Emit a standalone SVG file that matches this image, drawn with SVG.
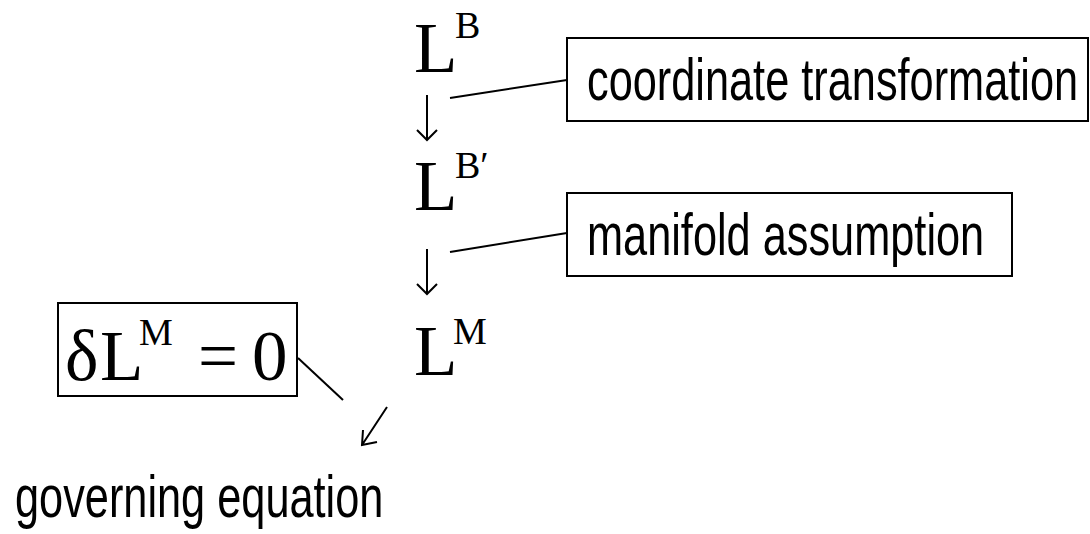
<svg xmlns="http://www.w3.org/2000/svg" width="1090" height="534" viewBox="0 0 1090 534">
  <style>
    .math { font-family: "Liberation Serif", "Times New Roman", serif; fill: #000; }
    .big { font-size: 71px; }
    .sup { font-size: 38px; }
    .label { font-family: "Liberation Sans", Arial, sans-serif; font-size: 60px; fill: #000; }
    .box { fill: #fff; stroke: #000; stroke-width: 2; }
    .conn { stroke: #000; stroke-width: 2; fill: none; }
  </style>

  <!-- Lagrangian stages -->
  <g id="node-LB">
    <text class="math big" x="414" y="72">L</text>
    <text class="math sup" x="455" y="38">B</text>
  </g>
  <g id="node-LBp">
    <text class="math big" x="414" y="210">L</text>
    <text class="math sup" x="455" y="178">B′</text>
  </g>
  <g id="node-LM">
    <text class="math big" x="414" y="375">L</text>
    <text class="math sup" x="453" y="344">M</text>
  </g>

  <!-- Annotation boxes; labels use a narrowed sans face -->
  <g id="node-coord">
    <rect class="box" x="567" y="38" width="521" height="83"/>
    <text class="label" transform="translate(587 100) scale(0.722 1)">coordinate transformation</text>
  </g>
  <g id="node-manifold">
    <rect class="box" x="567" y="193" width="445" height="83"/>
    <text class="label" transform="translate(587 255) scale(0.722 1)">manifold assumption</text>
  </g>
  <g id="node-variation">
    <rect class="box" x="58" y="303" width="239" height="93"/>
    <text class="math big" x="65" y="380">δ</text>
    <text class="math big" x="100" y="380">L</text>
    <text class="math sup" x="139" y="345">M</text>
    <text class="math big" x="198" y="380">=</text>
    <text class="math big" x="252" y="380">0</text>
  </g>
  <g id="node-governing">
    <text class="label" transform="translate(15 517) scale(0.722 1)">governing equation</text>
  </g>

  <!-- Connectors and arrows -->
  <g id="connectors" class="conn">
    <path d="M427 95 V140 M417 130 L427 140 L437 130"/>
    <path d="M427 249 V294 M417 284 L427 294 L437 284"/>
    <path d="M387 407 L362 445 M363 430 L362 445 L377 442"/>
    <line x1="450" y1="98" x2="567" y2="80"/>
    <line x1="450" y1="252" x2="567" y2="233"/>
    <line x1="298" y1="358" x2="343" y2="400"/>
  </g>
</svg>
